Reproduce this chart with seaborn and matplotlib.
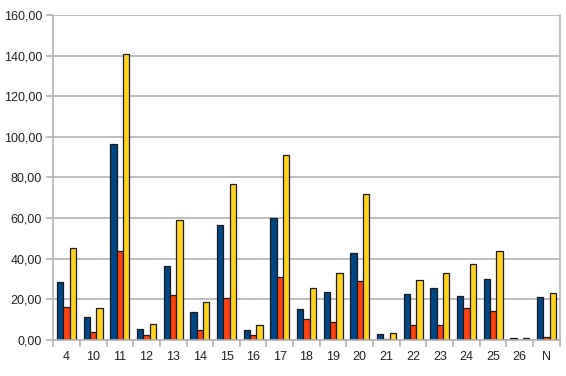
import pandas as pd
import seaborn as sns
import matplotlib.pyplot as plt
from matplotlib.ticker import FuncFormatter, FixedLocator

# data
categories = ['4', '10', '11', '12', '13', '14', '15', '16', '17', '18',
              '19', '20', '21', '22', '23', '24', '25', '26', 'N']
serie_1 = [28.7, 11.5, 96.5, 5.4, 36.4, 13.5, 56.6, 4.9, 60.2, 15.3,
           23.8, 43.0, 3.0, 22.6, 25.8, 21.8, 29.9, 0.8, 21.3]
serie_2 = [16.4, 4.1, 43.8, 2.5, 22.2, 4.9, 20.8, 2.3, 31.2, 10.3,
           9.0, 29.2, 0.2, 7.1, 7.1, 15.9, 14.0, 0.0, 1.6]
serie_3 = [45.1, 15.9, 140.8, 7.9, 59.1, 18.7, 76.8, 7.4, 91.0, 25.8,
           33.1, 71.9, 3.6, 29.7, 33.1, 37.4, 43.8, 0.8, 23.3]
series_names = ['Serie 1', 'Serie 2', 'Serie 3']
colors = ['#004586', '#ff420e', '#ffd320']

df = pd.DataFrame({
    'cat': categories * 3,
    'value': serie_1 + serie_2 + serie_3,
    'series': [s for s in series_names for _ in categories],
})

sns.set_style('white')
plt.rcParams['font.family'] = ['Liberation Sans', 'DejaVu Sans']

fig = plt.figure(figsize=(5.66, 3.76), dpi=100)
ax = fig.add_axes([0.094, 0.096, 0.895, 0.864])

sns.barplot(data=df, x='cat', y='value', hue='series', order=categories,
            hue_order=series_names, palette=colors, saturation=1, width=0.72,
            edgecolor='#1a1a1a', linewidth=0.9, legend=False, ax=ax)

ax.set_ylim(0, 160)
ax.set_xlim(-0.5, len(categories) - 0.5)
ax.set_yticks(range(0, 161, 20))
ax.yaxis.set_major_formatter(FuncFormatter(lambda v, p: f'{v:.2f}'.replace('.', ',')))
ax.grid(axis='y', color='#b3b3b3', linewidth=1.2)
ax.set_axisbelow(True)
ax.set_xlabel('')
ax.set_ylabel('')

# ticks between categories on the x axis
ax.xaxis.set_minor_locator(FixedLocator([i - 0.5 for i in range(len(categories) + 1)]))
ax.tick_params(axis='x', which='major', bottom=True, length=0, pad=8, labelsize=9, colors='#222222')
ax.tick_params(axis='x', which='minor', bottom=True, length=5, width=1.2, color='#b3b3b3', direction='out')
ax.tick_params(axis='y', left=True, length=5, width=1.2, color='#b3b3b3', direction='out', pad=3,
               labelsize=9, labelcolor='#222222')

for side in ['left', 'bottom', 'right']:
    ax.spines[side].set_color('#b3b3b3')
    ax.spines[side].set_linewidth(1.2)
ax.spines['top'].set_visible(False)

fig.savefig('out.png', dpi=100)
